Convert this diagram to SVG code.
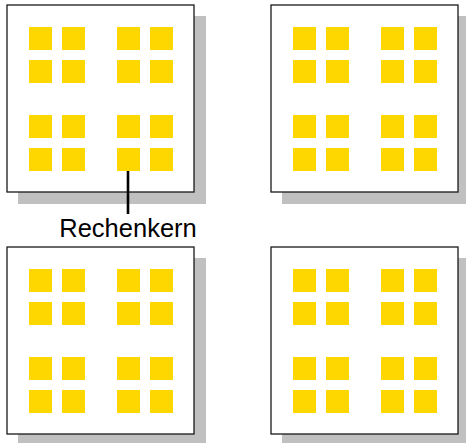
<svg xmlns="http://www.w3.org/2000/svg" xmlns:xlink="http://www.w3.org/1999/xlink" width="466" height="443" viewBox="0 0 466 443">
<style>
.shadow{fill:#c0c0c0;stroke:none}
.chip{fill:#fff;stroke:#1a1a1a;stroke-width:1.3}
.core{fill:#ffd700;stroke:none}
.lbl{font-family:"Liberation Sans",Arial,sans-serif;font-size:25.5px;fill:#000}
</style>
<defs>
<g id="cpu">
<rect class="shadow" x="11" y="11" width="188" height="188"/>
<rect class="chip" x="0" y="0" width="187" height="187"/>
<rect class="core" x="22" y="22" width="23" height="23"/>
<rect class="core" x="55" y="22" width="23" height="23"/>
<rect class="core" x="110" y="22" width="23" height="23"/>
<rect class="core" x="143" y="22" width="23" height="23"/>
<rect class="core" x="22" y="55" width="23" height="23"/>
<rect class="core" x="55" y="55" width="23" height="23"/>
<rect class="core" x="110" y="55" width="23" height="23"/>
<rect class="core" x="143" y="55" width="23" height="23"/>
<rect class="core" x="22" y="110" width="23" height="23"/>
<rect class="core" x="55" y="110" width="23" height="23"/>
<rect class="core" x="110" y="110" width="23" height="23"/>
<rect class="core" x="143" y="110" width="23" height="23"/>
<rect class="core" x="22" y="143" width="23" height="23"/>
<rect class="core" x="55" y="143" width="23" height="23"/>
<rect class="core" x="110" y="143" width="23" height="23"/>
<rect class="core" x="143" y="143" width="23" height="23"/>
</g>
</defs>
<g id="cpu-top-left"><use xlink:href="#cpu" href="#cpu" transform="translate(7,5)"/></g>
<g id="cpu-top-right"><use xlink:href="#cpu" href="#cpu" transform="translate(271,5)"/></g>
<g id="cpu-bottom-left"><use xlink:href="#cpu" href="#cpu" transform="translate(7,247)"/></g>
<g id="cpu-bottom-right"><use xlink:href="#cpu" href="#cpu" transform="translate(271,247)"/></g>
<g id="connectors">
<line x1="128" y1="171" x2="128" y2="214" stroke="#000" stroke-width="2.6"/>
</g>
<g id="label">
<text class="lbl" x="128" y="236.5" text-anchor="middle">Rechenkern</text>
</g>
</svg>
